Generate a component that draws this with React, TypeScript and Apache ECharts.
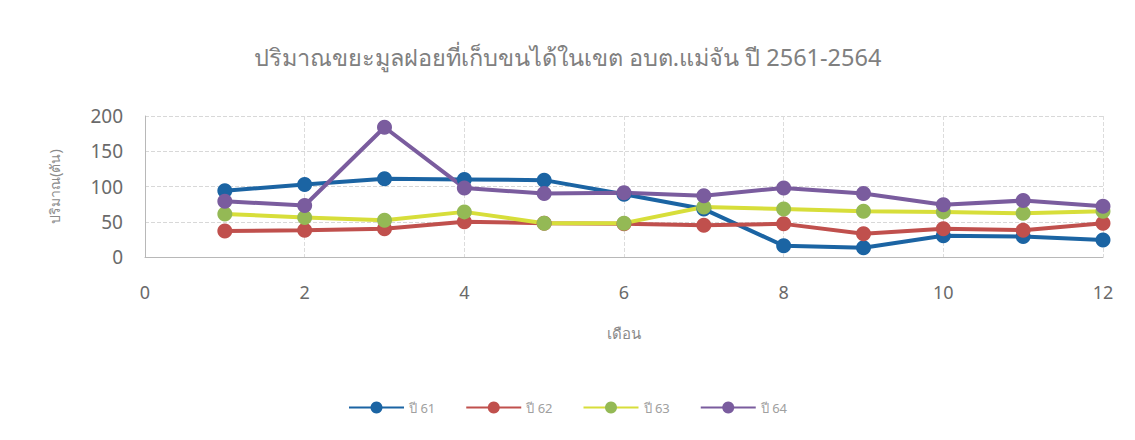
import React, { useEffect, useRef } from "react";
import * as echarts from "echarts";

const months = [1, 2, 3, 4, 5, 6, 7, 8, 9, 10, 11, 12];
const seriesNames = ["ปี 61", "ปี 62", "ปี 63", "ปี 64"];
const y61 = [94, 103, 111, 110, 109, 89, 68, 16, 13, 30, 29, 24];
const y62 = [37, 38, 40, 50, 48, 47, 45, 47, 33, 40, 38, 48];
const y63 = [61, 56, 52, 64, 48, 48, 71, 68, 65, 64, 62, 65];
const y64 = [79, 73, 184, 98, 90, 91, 87, 98, 90, 74, 80, 72];
const titleText = "ปริมาณขยะมูลฝอยที่เก็บขนได้ในเขต อบต.แม่จัน ปี 2561-2564";
const yName = "ปริมาณ(ตัน)";
const xName = "เดือน";

const lineColors = ["#1b64a3", "#c0504d", "#d7de3a", "#7a5c9e"];
const markerColors = ["#1b64a3", "#c0504d", "#94b955", "#7a5c9e"];

export default function App() {
  const ref = useRef<HTMLDivElement>(null);
  useEffect(() => {
    if (!ref.current) return;
    const chart = echarts.init(ref.current, undefined, { renderer: "svg" });
    const all = [y61, y62, y63, y64];
    chart.setOption({
      animation: false,
      backgroundColor: "#ffffff",
      textStyle: { fontFamily: "'Noto Sans', 'Open Sans', sans-serif" },
      title: {
        text: titleText,
        left: "center",
        top: 32,
        textStyle: { fontSize: 23.5, fontWeight: "normal", color: "#808080" },
      },
      legend: {
        bottom: 13,
        left: "center",
        itemWidth: 55,
        itemHeight: 15,
        itemGap: 30,
        textStyle: { fontSize: 13, color: "#a0a0a0" },
        data: seriesNames,
      },
      grid: { left: 137, right: 24, top: 108, bottom: 175 },
      xAxis: {
        type: "value",
        min: 0,
        max: 12,
        interval: 2,
        name: xName,
        nameLocation: "middle",
        nameGap: 68,
        nameTextStyle: { fontSize: 15, color: "#8a8a8a" },
        axisLine: { show: true, lineStyle: { color: "#b8b8b8" } },
        axisTick: { show: false },
        axisLabel: { fontSize: 18, color: "#6a6a6a", margin: 26 },
        splitLine: { show: true, lineStyle: { color: "#dcdcdc", type: "dashed" } },
      },
      yAxis: {
        type: "value",
        min: 0,
        max: 200,
        interval: 50,
        name: yName,
        nameLocation: "middle",
        nameGap: 84,
        nameTextStyle: { fontSize: 14, color: "#8a8a8a" },
        axisLine: { show: true, lineStyle: { color: "#b8b8b8" } },
        axisTick: { show: false },
        axisLabel: { fontSize: 19, color: "#6a6a6a", margin: 22 },
        splitLine: { show: true, lineStyle: { color: "#d8d8d8", type: "dashed" } },
      },
      series: all.map((vals, i) => ({
        name: seriesNames[i],
        type: "line",
        data: months.map((m, j) => [m, vals[j]]),
        symbol: "circle",
        symbolSize: 15,
        lineStyle: { width: 4, color: lineColors[i] },
        itemStyle: { color: markerColors[i] },
      })),
    });
    return () => chart.dispose();
  }, []);
  return <div ref={ref} style={{ width: 1119, height: 424 }} />;
}
